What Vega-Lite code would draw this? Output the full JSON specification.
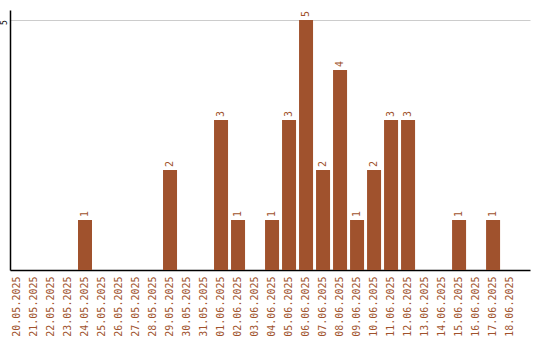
{
  "$schema": "https://vega.github.io/schema/vega-lite/v6.json",
  "width": 520,
  "height": 260,
  "autosize": "none",
  "padding": {"left": 10, "top": 10, "right": 10, "bottom": 70},
  "background": "white",
  "config": {"view": {"stroke": null}, "font": "DejaVu Sans Mono"},
  "data": {"values": [
    {"date": "20.05.2025", "count": 0},
    {"date": "21.05.2025", "count": 0},
    {"date": "22.05.2025", "count": 0},
    {"date": "23.05.2025", "count": 0},
    {"date": "24.05.2025", "count": 1},
    {"date": "25.05.2025", "count": 0},
    {"date": "26.05.2025", "count": 0},
    {"date": "27.05.2025", "count": 0},
    {"date": "28.05.2025", "count": 0},
    {"date": "29.05.2025", "count": 2},
    {"date": "30.05.2025", "count": 0},
    {"date": "31.05.2025", "count": 0},
    {"date": "01.06.2025", "count": 3},
    {"date": "02.06.2025", "count": 1},
    {"date": "03.06.2025", "count": 0},
    {"date": "04.06.2025", "count": 1},
    {"date": "05.06.2025", "count": 3},
    {"date": "06.06.2025", "count": 5},
    {"date": "07.06.2025", "count": 2},
    {"date": "08.06.2025", "count": 4},
    {"date": "09.06.2025", "count": 1},
    {"date": "10.06.2025", "count": 2},
    {"date": "11.06.2025", "count": 3},
    {"date": "12.06.2025", "count": 3},
    {"date": "13.06.2025", "count": 0},
    {"date": "14.06.2025", "count": 0},
    {"date": "15.06.2025", "count": 1},
    {"date": "16.06.2025", "count": 0},
    {"date": "17.06.2025", "count": 1},
    {"date": "18.06.2025", "count": 0}
  ]},
  "encoding": {
    "x": {
      "field": "date", "type": "ordinal", "sort": null,
      "scale": {"paddingInner": 0.176, "paddingOuter": 0.38, "align": 0},
      "axis": {
        "title": null, "labelAngle": -90, "labelColor": "#a0522d",
        "labelFont": "DejaVu Sans Mono", "labelFontSize": 10,
        "ticks": false, "labelPadding": 6, "domainColor": "black",
        "domainWidth": 1.5, "labelAlign": "right", "labelBaseline": "middle"
      }
    },
    "y": {
      "field": "count", "type": "quantitative",
      "scale": {"domain": [0, 5.2], "nice": false},
      "axis": {
        "title": null, "values": [5], "labelAngle": -90, "labelColor": "black",
        "labelFont": "DejaVu Sans Mono", "labelFontSize": 8, "ticks": false,
        "labelPadding": 4, "labelAlign": "center", "labelBaseline": "alphabetic",
        "labelOffset": 2,
        "domainColor": "black", "domainWidth": 1.5, "gridColor": "#cccccc",
        "grid": true
      }
    }
  },
  "layer": [
    {"mark": {"type": "bar", "color": "#a0522d"}},
    {
      "transform": [{"filter": "datum.count > 0"}],
      "mark": {"type": "text", "angle": 270, "align": "left", "baseline": "middle",
               "dx": 3, "color": "#a0522d", "font": "DejaVu Sans Mono", "fontSize": 10},
      "encoding": {"text": {"field": "count", "type": "quantitative"}}
    }
  ]
}
